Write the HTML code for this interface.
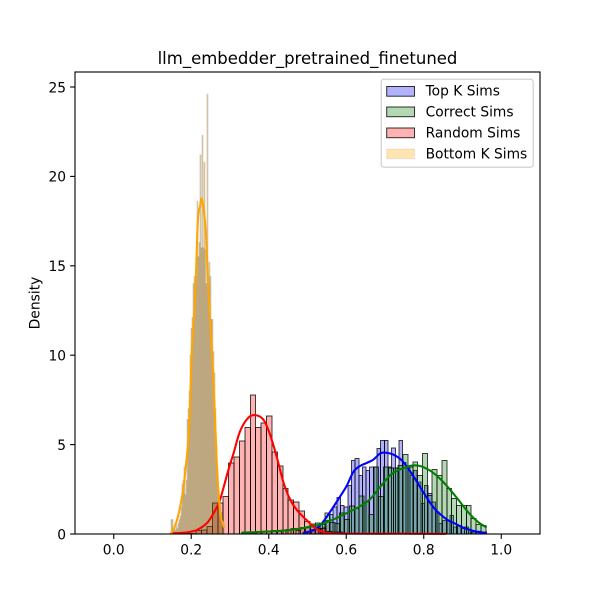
<!DOCTYPE html>
<html lang="en">
<head>
<meta charset="utf-8">
<title>llm_embedder_pretrained_finetuned</title>
<style>
html,body{margin:0;padding:0;background:#fff;width:600px;height:600px;overflow:hidden}
svg{display:block}
text{font-family:"DejaVu Sans","Liberation Sans",sans-serif;fill:#000}
</style>
</head>
<body>
<svg id="chart" xmlns="http://www.w3.org/2000/svg" width="600" height="600" viewBox="0 0 600 600">
<rect x="0" y="0" width="600" height="600" fill="#fff"/>
<g id="bars"></g>
<g id="lines"></g>
<rect x="75" y="72" width="465" height="462" fill="none" stroke="#000" stroke-width="1.11"/>
<g id="xticks"></g>
<g id="yticks"></g>
<text x="307.5" y="64" font-size="16.5" text-anchor="middle">llm_embedder_pretrained_finetuned</text>
<text x="0" y="0" font-size="13.89" text-anchor="middle" transform="translate(39.5,303) rotate(-90)">Density</text>
<g>
<rect x="381.2" y="79.2" width="152" height="88" rx="2.8" fill="#fff" fill-opacity="0.8" stroke="#ccc" stroke-width="1.11"/>
<g>
<rect x="386.7" y="86.5" width="27.8" height="9.7" fill="#0000ff" fill-opacity="0.3" stroke="#000" stroke-opacity="0.8" stroke-width="1"/>
<text x="425.6" y="95.5" font-size="13.8">Top K Sims</text>
</g>
<g>
<rect x="386.7" y="107" width="27.8" height="9.7" fill="#008000" fill-opacity="0.3" stroke="#000" stroke-opacity="0.8" stroke-width="1"/>
<text x="425.6" y="116.5" font-size="13.8">Correct Sims</text>
</g>
<g>
<rect x="386.7" y="128" width="27.8" height="9.7" fill="#ff0000" fill-opacity="0.3" stroke="#000" stroke-opacity="0.8" stroke-width="1"/>
<text x="425.6" y="137.5" font-size="13.8">Random Sims</text>
</g>
<g>
<rect x="386.7" y="149" width="27.8" height="9.7" fill="#ffa500" fill-opacity="0.3" stroke="#000" stroke-opacity="0.07" stroke-width="1"/>
<text x="425.6" y="158.5" font-size="13.8">Bottom K Sims</text>
</g>
</g>
</svg>
<script>
// Tick labels
const xTickValues = [0.0, 0.2, 0.4, 0.6, 0.8, 1.0];
const yTickValues = [0, 5, 10, 15, 20, 25];

// Histogram: first bin edge and bin width (similarity units), densities per bin
const topKStart = 0.491;
const topKWidth = 0.00942;
const topKDensity = [0.07,0.15,0.26,0.48,0.52,0.39,0.76,1.08,1.5,2.03,1.6,1.5,2.72,4.12,4.21,3.28,3.75,3.56,3.75,3.75,4.77,5.22,5.22,3.75,4.81,3.69,5.22,3.99,3.75,3.28,3.56,2.9,1.7,2.72,2.26,1.79,1.23,0.58,0.76,0.76,1.04,0.39,0.48,0.3,0.39,0.11,0.11,0.07,0.07,0.11];

const correctStart = 0.3317;
const correctWidth = 0.01257;
const correctDensity = [0.1,0.1,0.05,0.1,0.15,0.1,0.2,0.15,0.2,0.25,0.3,0.2,0.35,0.4,0.4,0.62,0.54,1.17,0.63,0.58,1.17,0.8,1.57,1.42,2.13,1.79,1.08,3.75,2.1,3.75,3.69,3.69,3.84,4.44,3.75,4.03,3.28,4.49,2.16,3.6,3.28,4.12,2.54,1.98,1.6,1.6,1.6,0.86,0.52,0.48];

const randomStart = 0.1565;
const randomWidth = 0.01399;
const randomDensity = [0.02,0.02,0.02,0.02,0.19,0.22,0.43,1.73,1.73,2.1,3.97,4.3,5.2,5.97,7.77,5.97,6.2,6.6,4.6,3.8,2.55,1.9,1.8,1.3,0.7,0.55,0.3,0.3,0.15,0.12,0.1,0.05,0,0.05,0,0,0.03,0,0,0.03,0,0,0,0,0,0,0,0,0,0.02];

const bottomKStart = 0.1477;
const bottomKWidth = 0.00258;
const bottomKDensity = [0.8,0.8,0.2,0.3,0.2,0.5,0.3,0.6,0.8,1.0,1.5,2.8,3,3.76,2.2,3,6.4,7,8,10,11.5,12.1,14,14.4,14.2,14.4,18.6,15.5,16.3,21.2,16,22.3,16,20.8,15.9,14,24.6,14,15.2,14.4,12,12,10.2,9,7,5,3.5,2.5,2,1,1.2,0.7,0.6];

// KDE curves
const topKKdeSim = [0.4903,0.5143,0.5323,0.5493,0.5663,0.5833,0.6013,0.6183,0.6353,0.6523,0.6693,0.6873,0.7003,0.7213,0.7433,0.7603,0.7773,0.7943,0.8123,0.8293,0.8463,0.8633,0.8813,0.8983,0.9153,0.9323,0.9583];
const topKKdeDensity = [0.07,0.2,0.48,0.95,1.5,2.07,2.7,3.47,3.8,3.97,4.15,4.5,4.55,4.44,4.12,3.65,3.1,2.5,1.88,1.38,1.04,0.76,0.58,0.39,0.26,0.15,0.07];

const correctKdeSim = [0.3317,0.4365,0.4803,0.5143,0.5323,0.5653,0.6013,0.6353,0.6613,0.6873,0.7133,0.7373,0.7773,0.8123,0.8463,0.8813,0.9153,0.9403,0.9603];
const correctKdeDensity = [0.07,0.19,0.3,0.45,0.54,0.8,1.17,1.55,1.94,2.63,3.28,3.6,3.84,3.6,3.0,2.13,1.2,0.67,0.39];

const randomKdeSim = [0.154,0.188,0.214,0.24,0.257,0.274,0.296,0.309,0.326,0.347,0.3653,0.386,0.4027,0.4208,0.4378,0.4548,0.4723,0.4976,0.5236,0.5495,0.5994,0.7382,0.855];
const randomKdeDensity = [0.04,0.09,0.22,0.6,1.15,1.9,3.6,4.5,5.75,6.5,6.65,6.4,5.6,4.3,2.9,1.95,1.35,0.78,0.28,0.07,0.02,0.02,0.01];

const bottomKKdeSim = [0.148,0.155,0.166,0.179,0.1865,0.195,0.201,0.21,0.217,0.2226,0.2277,0.2373,0.2432,0.2484,0.2569,0.2657,0.2742,0.2845];
const bottomKKdeDensity = [0.05,0.3,1.0,2.46,3.9,6,10,13.3,17.5,18.3,18.7,17,14.2,12,8.8,4.1,1.3,0.4];

// Axis functions
function xScale(v) { return 75 + (v + 0.1) / 1.2 * 465; }
function yScale(v) { return 534 - v * 17.88; }

const NS = 'http://www.w3.org/2000/svg';

function drawBars(parent, key, start, width, values, fill, edgeOpacity, edgeWidth, rendering) {
  const g = document.createElementNS(NS, 'g');
  
  
  g.setAttribute('shape-rendering', rendering);
  values.forEach(function (v, i) {
    if (v <= 0) return;
    const x0 = xScale(start + i * width);
    const x1 = xScale(start + (i + 1) * width);
    const r = document.createElementNS(NS, 'rect');
    
    
    r.setAttribute('x', x0);
    r.setAttribute('y', yScale(v));
    r.setAttribute('width', x1 - x0);
    r.setAttribute('height', yScale(0) - yScale(v));
    r.setAttribute('fill', fill);
    r.setAttribute('fill-opacity', '0.3');
    r.setAttribute('stroke', '#000');
    r.setAttribute('stroke-opacity', edgeOpacity);
    r.setAttribute('stroke-width', edgeWidth);
    g.appendChild(r);
  });
  parent.appendChild(g);
}

function drawKde(parent, key, sims, dens, color) {
  const pts = sims.map(function (s, i) { return [xScale(s), yScale(dens[i])]; });
  let d = 'M' + pts[0][0] + ' ' + pts[0][1];
  for (let i = 0; i < pts.length - 1; i++) {
    const p0 = pts[Math.max(i - 1, 0)];
    const p1 = pts[i];
    const p2 = pts[i + 1];
    const p3 = pts[Math.min(i + 2, pts.length - 1)];
    const c1x = p1[0] + (p2[0] - p0[0]) / 6;
    const c1y = Math.min(534, p1[1] + (p2[1] - p0[1]) / 6);
    const c2x = p2[0] - (p3[0] - p1[0]) / 6;
    const c2y = Math.min(534, p2[1] - (p3[1] - p1[1]) / 6);
    d += 'C' + c1x + ' ' + c1y + ' ' + c2x + ' ' + c2y + ' ' + p2[0] + ' ' + p2[1];
  }
  const path = document.createElementNS(NS, 'path');
  
  
  path.setAttribute('d', d);
  path.setAttribute('fill', 'none');
  path.setAttribute('stroke', color);
  path.setAttribute('stroke-width', '2.08');
  path.setAttribute('stroke-linecap', 'square');
  path.setAttribute('stroke-linejoin', 'round');
  parent.appendChild(path);
}

const barsLayer = document.getElementById('bars');
drawBars(barsLayer, 'top-k', topKStart, topKWidth, topKDensity, '#0000ff', 0.75, 1, 'crispEdges');
drawBars(barsLayer, 'correct', correctStart, correctWidth, correctDensity, '#008000', 0.75, 1, 'crispEdges');
drawBars(barsLayer, 'random', randomStart, randomWidth, randomDensity, '#ff0000', 0.75, 1, 'crispEdges');
drawBars(barsLayer, 'bottom-k', bottomKStart, bottomKWidth, bottomKDensity, '#ffa500', 0.15, 1.0, 'auto');

const linesLayer = document.getElementById('lines');
drawKde(linesLayer, 'top-k', topKKdeSim, topKKdeDensity, '#0000ff');
drawKde(linesLayer, 'correct', correctKdeSim, correctKdeDensity, '#008000');
drawKde(linesLayer, 'random', randomKdeSim, randomKdeDensity, '#ff0000');
drawKde(linesLayer, 'bottom-k', bottomKKdeSim, bottomKKdeDensity, '#ffa500');

const xAxis = document.getElementById('xticks');
xTickValues.forEach(function (v) {
  const px = xScale(v);
  const t = document.createElementNS(NS, 'line');
  
  
  t.setAttribute('x1', px);
  t.setAttribute('x2', px);
  t.setAttribute('y1', 534);
  t.setAttribute('y2', 538.9);
  t.setAttribute('stroke', '#000');
  t.setAttribute('stroke-width', '1.11');
  xAxis.appendChild(t);
  const l = document.createElementNS(NS, 'text');
  
  
  l.setAttribute('x', px);
  l.setAttribute('y', 554.5);
  l.setAttribute('font-size', '13.8');
  l.setAttribute('text-anchor', 'middle');
  l.textContent = v.toFixed(1);
  xAxis.appendChild(l);
});

const yAxis = document.getElementById('yticks');
yTickValues.forEach(function (v) {
  const py = yScale(v);
  const t = document.createElementNS(NS, 'line');
  
  
  t.setAttribute('x1', 70.1);
  t.setAttribute('x2', 75);
  t.setAttribute('y1', py);
  t.setAttribute('y2', py);
  t.setAttribute('stroke', '#000');
  t.setAttribute('stroke-width', '1.11');
  yAxis.appendChild(t);
  const l = document.createElementNS(NS, 'text');
  
  
  l.setAttribute('x', 66);
  l.setAttribute('y', py + 5.3);
  l.setAttribute('font-size', '13.8');
  l.setAttribute('text-anchor', 'end');
  l.textContent = String(v);
  yAxis.appendChild(l);
});
</script>
</body>
</html>
